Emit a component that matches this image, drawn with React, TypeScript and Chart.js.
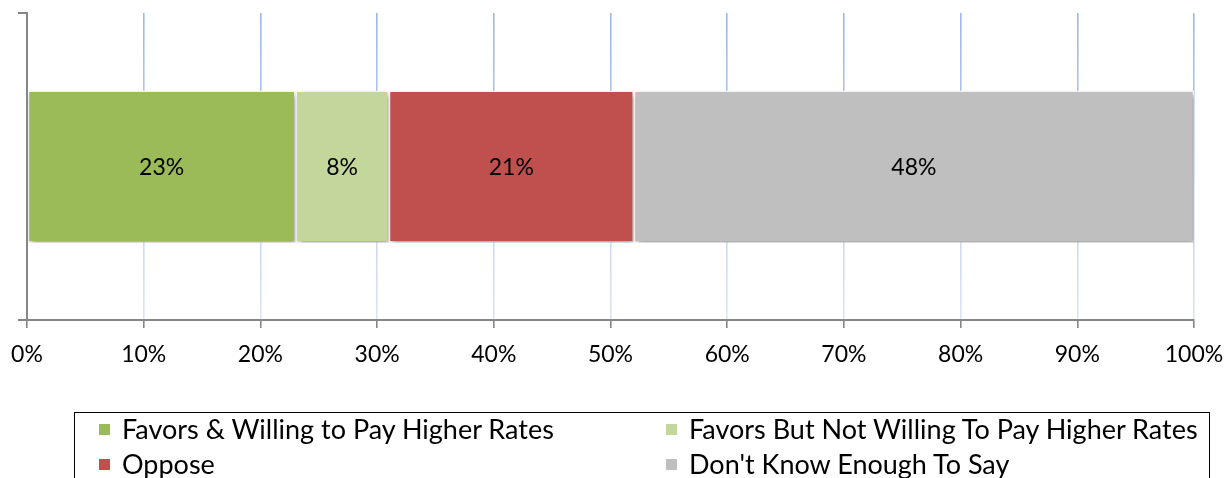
import React, { useEffect, useRef } from "react";
import { Chart, registerables } from "chart.js";

Chart.register(...registerables);

const categories: string[] = [""];
const seriesNames: string[] = [
  "Favors & Willing to Pay Higher Rates",
  "Favors But Not Willing To Pay Higher Rates",
  "Oppose",
  "Don't Know Enough To Say",
];
const seriesValues: number[] = [23, 8, 21, 48];
const seriesColors: string[] = ["#9BBB59", "#C3D69B", "#C0504D", "#BFBFBF"];
const tickValues: number[] = [0, 10, 20, 30, 40, 50, 60, 70, 80, 90, 100];

const FONT = "Lato, 'Open Sans', sans-serif";

const shadowPlugin = {
  id: "barShadow",
  beforeDatasetsDraw(chart: any) {
    const ctx = chart.ctx;
    ctx.save();
    ctx.shadowColor = "rgba(0,0,0,0.38)";
    ctx.shadowBlur = 6;
    ctx.shadowOffsetX = 2;
    ctx.shadowOffsetY = 3;
  },
  afterDatasetsDraw(chart: any) {
    chart.ctx.restore();
  },
};

const labelPlugin = {
  id: "segLabels",
  afterDraw(chart: any) {
    const ctx = chart.ctx;
    ctx.save();
    ctx.font = `23px ${FONT}`;
    ctx.fillStyle = "#000";
    ctx.textAlign = "center";
    ctx.textBaseline = "middle";
    chart.data.datasets.forEach((ds: any, i: number) => {
      const meta = chart.getDatasetMeta(i);
      meta.data.forEach((el: any, j: number) => {
        const p = el.getProps(["x", "y", "base"], true);
        ctx.fillText(ds.data[j] + "%", (p.x + p.base) / 2, p.y + 1);
      });
    });
    ctx.restore();
  },
};

export default function App() {
  const ref = useRef<HTMLCanvasElement | null>(null);
  useEffect(() => {
    document.body.style.margin = "0";
    const canvas = ref.current!;
    const chart = new Chart(canvas, {
      type: "bar",
      data: {
        labels: categories,
        datasets: seriesNames.map((n, i) => ({
          label: n,
          data: [seriesValues[i]],
          backgroundColor: seriesColors[i],
          borderColor: "#FFFFFF",
          borderWidth: 1.5,
          borderSkipped: false,
          barPercentage: 0.99,
          categoryPercentage: 0.5,
        })),
      },
      options: {
        indexAxis: "y",
        animation: false,
        responsive: false,
        maintainAspectRatio: false,
        layout: { padding: { left: 17, top: 13, right: 37, bottom: 98 } },
        plugins: {
          legend: { display: false },
          tooltip: { enabled: false },
        },
        scales: {
          x: {
            stacked: true,
            min: 0,
            max: 100,
            afterBuildTicks: (axis: any) => {
              axis.ticks = tickValues.map((v) => ({ value: v }));
            },
            afterFit: (axis: any) => {
              axis.paddingLeft = 0;
              axis.paddingRight = 0;
              axis.height = 60;
            },
            ticks: {
              callback: (v: any) => v + "%",
              color: "#000",
              font: { family: FONT, size: 23 },
              padding: 13,
              maxRotation: 0,
            },
            grid: {
              color: (c: any) => {
                if (!c.chart.chartArea) return "#A9C0EA";
                const a = c.chart.chartArea;
                const grad = c.chart.ctx.createLinearGradient(0, a.top, 0, a.bottom);
                grad.addColorStop(0, "#9DB8E8");
                grad.addColorStop(1, "#DCE5F5");
                return grad;
              },
              lineWidth: 1.6,
              tickColor: "#868686",
              tickLength: 8,
            },
            border: { color: "#868686", width: 2 },
          },
          y: {
            stacked: true,
            offset: true,
            afterFit: (axis: any) => {
              axis.width = 10;
            },
            ticks: { display: false },
            grid: {
              offset: true,
              drawOnChartArea: false,
              color: "#868686",
              lineWidth: 2,
              tickLength: 9,
            },
            border: { color: "#868686", width: 2 },
          },
        },
      },
      plugins: [shadowPlugin, labelPlugin],
    } as any);
    return () => chart.destroy();
  }, []);

  const legendItems = [
    [0, 1],
    [2, 3],
  ];
  const colX = [24, 591];

  return (
    <div style={{ position: "relative", width: 1231, height: 478, overflow: "hidden", background: "#fff" }}>
      <canvas ref={ref} width={1231} height={478} style={{ position: "absolute", left: 0, top: 0 }} />
      <div
        style={{
          position: "absolute",
          left: 74,
          top: 412,
          width: 1136,
          height: 90,
          border: "1.5px solid #000",
          boxSizing: "border-box",
          fontFamily: FONT,
          fontSize: 27,
          color: "#000",
        }}
      >
        {legendItems.map((row, r) =>
          row.map((idx, c) => (
            <div
              key={idx}
              style={{
                position: "absolute",
                left: colX[c],
                top: 1 + r * 35,
                height: 30,
                display: "flex",
                alignItems: "center",
                whiteSpace: "nowrap",
                lineHeight: "30px",
              }}
            >
              <span
                style={{
                  display: "inline-block",
                  width: 11,
                  height: 11,
                  background: seriesColors[idx],
                  marginRight: 12,
                }}
              />
              <span>{seriesNames[idx]}</span>
            </div>
          ))
        )}
      </div>
    </div>
  );
}
